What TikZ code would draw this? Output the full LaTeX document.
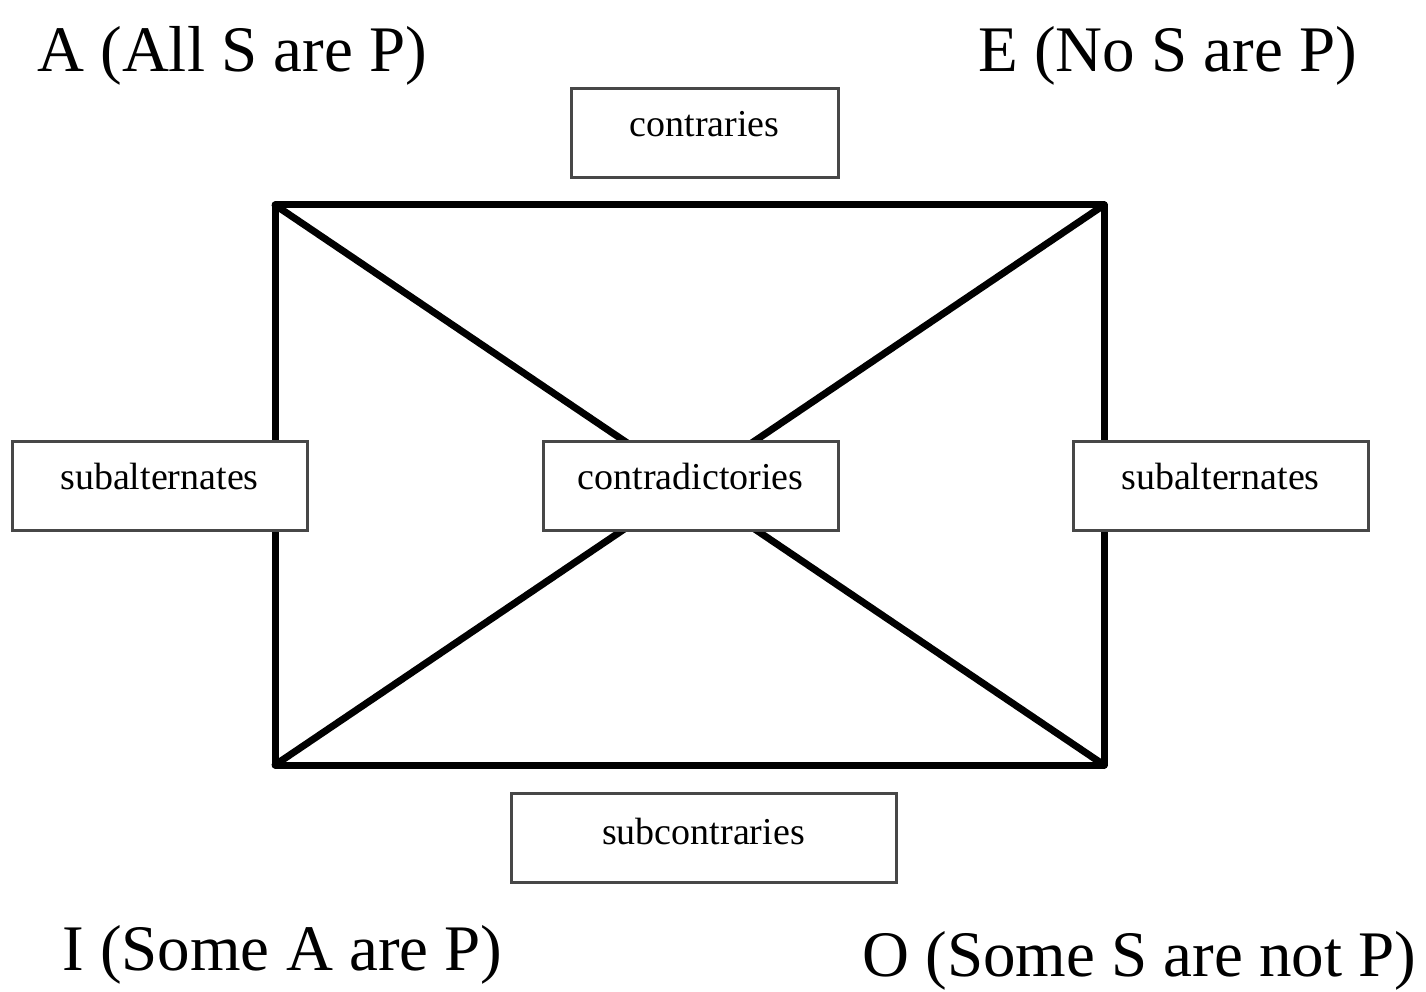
\documentclass[tikz,border=0pt]{standalone}
\usepackage{fontspec}
\setmainfont{Liberation Serif}
\begin{document}
\begin{tikzpicture}[x=1pt,y=-1pt,
  label/.style={anchor=base west,inner sep=0pt,font=\fontsize{65}{70}\selectfont},
  relbox/.style={draw=black!72,line width=3pt,fill=white,inner sep=0pt,align=center,
    font=\fontsize{38}{42}\selectfont,text height=48pt,text depth=41pt},
  side/.style={line width=7pt,line cap=round,line join=round}]
\useasboundingbox (0,0) rectangle (1426,992);
\coordinate (A) at (275,205);
\coordinate (E) at (1104,205);
\coordinate (O) at (1104,765);
\coordinate (I) at (275,765);
\draw[side] (A) -- (E) -- (O) -- (I) -- cycle;
\draw[side] (A) -- (O);
\draw[side] (E) -- (I);
\node[relbox,text width=267pt] (contr) at (704.5,133.5) {contraries};
\node[relbox,text width=295pt] (subL) at (159.5,486) {subalternates};
\node[relbox,text width=295pt] (subR) at (1220.5,486) {subalternates};
\node[relbox,text width=295pt] (cd) at (690.5,485.5) {contradictories};
\node[relbox,text width=385pt,text height=51pt,text depth=38pt] (subc) at (703.5,838) {subcontraries};
\node[label] (la) at (37,72) {A (All S are P)};
\node[label] (le) at (978,72) {E (No S are P)};
\node[label] (li) at (62,970) {I (Some A are P)};
\node[label] (lo) at (862,976) {O (Some S are not P)};
\end{tikzpicture}
\end{document}
